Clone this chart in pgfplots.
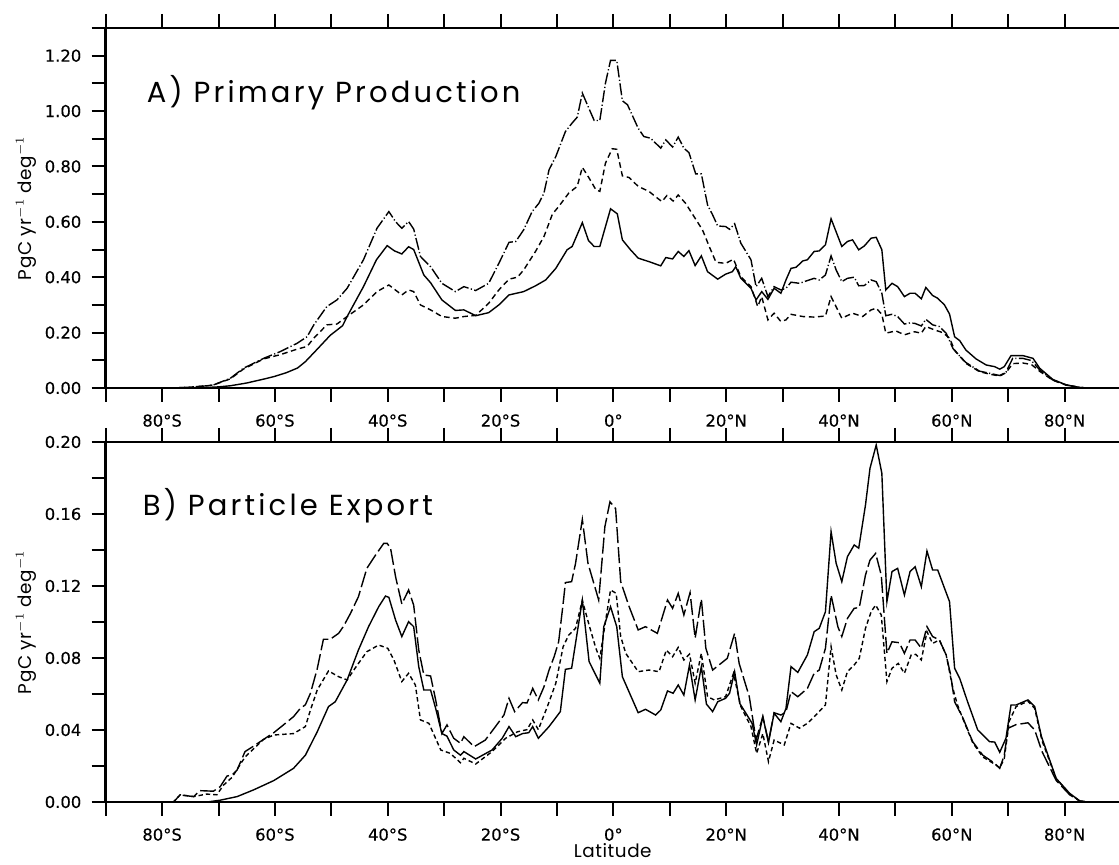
\documentclass[border=0pt]{standalone}
\usepackage{fontspec}
\setmainfont{DejaVu Sans}
\newfontfamily\titlefont[LetterSpace=11]{Poppins}
\newfontfamily\labelfont[LetterSpace=3]{Poppins}
\usepackage{pgfplots}
\pgfplotsset{compat=1.18}

\pgfplotsset{
  panel/.style={
    scale only axis, width=507.65pt, height=180pt,
    xmin=-90, xmax=90,
    xtick={-90,-80,...,90},
    xticklabels={,80°S,,60°S,,40°S,,20°S,,0°,,20°N,,40°N,,60°N,,80°N,},
    tick align=outside, major tick length=7pt,
    xtick pos=both, xticklabel pos=lower, ytick pos=left,
    axis line style={line width=1.2pt},
    major tick style={line width=1pt, black},
    tick label style={font=\fontsize{8.2}{9}\selectfont\addfontfeatures{FakeBold=0.4}, inner sep=0pt},
    yticklabel style={xshift=-5pt},
    xticklabel style={yshift=-6pt},
    ylabel={PgC yr$^{-1}$ deg$^{-1}$},
    ylabel style={at={(axis description cs:-0.0785,0.5)}, anchor=center, rotate=0, font=\labelfont\fontsize{9.2}{10}\selectfont},
  },
  sA/.style={black, solid, line width=0.7pt},
  ddA/.style={black, line width=0.7pt, dash pattern=on 6pt off 1.2pt on 0.6pt off 1.2pt},
  dsA/.style={black, line width=0.7pt, dash pattern=on 2.8pt off 1.8pt},
  ldB/.style={black, line width=0.7pt, dash pattern=on 8pt off 2pt},
  dsB/.style={black, line width=0.7pt, dash pattern=on 2.2pt off 1.5pt},
}

\begin{document}
\begin{tikzpicture}
\useasboundingbox (0,0) rectangle (559.5pt,432.5pt);

% ---------------- Panel A ----------------
\begin{axis}[panel, at={(52.85pt,238.5pt)}, anchor=south west,
  ymin=0, ymax=1.3,
  ytick={0,0.1,0.2,0.3,0.4,0.5,0.6,0.7,0.8,0.9,1.0,1.1,1.2,1.3},
  yticklabels={0.00,,0.20,,0.40,,0.60,,0.80,,1.00,,1.20,},
]
% solid
\addplot[sA] coordinates {
(-90,0) (-76,0) (-72,0.002) (-70,0.004) (-67.9,0.008) (-65,0.018) (-62,0.032) (-60.2,0.041) (-58,0.055) (-56,0.072) (-54.6,0.095) (-52.5,0.14) (-50.2,0.19) (-48,0.225) (-47.2,0.258) (-44.3,0.366) (-42,0.463) (-40.1,0.514) (-38.8,0.495) (-37.5,0.484) (-36.3,0.51) (-35.4,0.5) (-33.6,0.408) (-32.4,0.38) (-30.4,0.318) (-28,0.28) (-26.5,0.282) (-24.4,0.261) (-22.1,0.272) (-20.3,0.3) (-18.5,0.336) (-15.9,0.348) (-13.8,0.369) (-12,0.39) (-10.2,0.432) (-8.2,0.499) (-7.3,0.511) (-5.5,0.597) (-4.4,0.532) (-3.4,0.511) (-2.4,0.511) (-0.5,0.647) (0.7,0.629) (1.6,0.535) (3,0.5) (4.4,0.469) (6.5,0.455) (8.4,0.441) (9.3,0.471) (10.5,0.466) (11.5,0.493) (12.5,0.475) (13.4,0.496) (14.5,0.442) (15.6,0.477) (16.7,0.42) (18.5,0.393) (19.9,0.411) (21.1,0.42) (21.7,0.438) (22.6,0.396) (24.4,0.36) (25.3,0.318) (26.3,0.348) (27.4,0.32) (28.5,0.36) (29.7,0.342) (30.6,0.39) (31.5,0.432) (32.4,0.436) (33.6,0.459) (34.4,0.463) (35.6,0.493) (36.5,0.495) (37.6,0.517) (38.6,0.611) (40.5,0.511) (41.5,0.529) (42.4,0.535) (43.5,0.499) (44.5,0.513) (45.7,0.541) (46.6,0.544) (47.6,0.499) (48.3,0.354) (49.4,0.378) (50.4,0.366) (51.6,0.33) (52.6,0.342) (53.5,0.342) (54.6,0.322) (55.4,0.363) (56.6,0.334) (57.5,0.324) (58.7,0.3) (59.6,0.267) (60.5,0.185) (61.4,0.171) (62.5,0.137) (64.3,0.105) (66.1,0.083) (67.6,0.077) (68.5,0.068) (69.3,0.077) (70.5,0.117) (72.6,0.117) (74.4,0.107) (75.6,0.071) (77.9,0.031) (80.3,0.011) (82.7,0.002) (84,0) (90,0)
};
% dash-dot
\addplot[ddA] coordinates {
(-90,0) (-78,0) (-75,0.003) (-72,0.008) (-70.9,0.011) (-67.9,0.035) (-65.6,0.071) (-62,0.107) (-59.1,0.131) (-56.1,0.161) (-54.3,0.185) (-53.1,0.228) (-50.8,0.294) (-49,0.318) (-47.2,0.36) (-44.3,0.463) (-41.9,0.577) (-39.8,0.637) (-38.6,0.6) (-37.5,0.577) (-36.3,0.601) (-35.4,0.574) (-34.2,0.475) (-32.4,0.438) (-30.4,0.378) (-28,0.348) (-26.5,0.366) (-24.4,0.352) (-22.1,0.378) (-20.3,0.45) (-18.5,0.526) (-17.3,0.529) (-15.9,0.571) (-14.4,0.637) (-13.2,0.667) (-12.3,0.704) (-11.4,0.788) (-10.2,0.836) (-8.5,0.926) (-7.3,0.957) (-6.4,0.978) (-5.5,1.065) (-4.3,1.008) (-3.4,0.966) (-2.4,0.966) (-1.4,1.101) (-0.5,1.183) (0.6,1.183) (1.6,1.037) (2.5,1.023) (4.4,0.938) (5.4,0.908) (6.6,0.902) (8.4,0.866) (9.3,0.896) (10.5,0.87) (11.5,0.906) (12.5,0.866) (13.4,0.85) (14.6,0.773) (15.6,0.773) (16.7,0.661) (17.6,0.625) (18.5,0.585) (19.9,0.583) (20.6,0.573) (21.5,0.593) (22.6,0.523) (24.4,0.463) (25.3,0.366) (26.3,0.396) (27.4,0.33) (28.5,0.366) (29.7,0.354) (30.6,0.36) (31.5,0.382) (33,0.378) (34.7,0.39) (35.6,0.396) (36.5,0.39) (37.6,0.408) (38.6,0.477) (39.5,0.426) (40.5,0.384) (41.5,0.396) (42.7,0.4) (43.5,0.369) (44.5,0.37) (45.7,0.39) (46.6,0.384) (47.6,0.342) (48.3,0.261) (49.4,0.266) (50.4,0.258) (51.6,0.231) (52.6,0.235) (53.5,0.233) (54.6,0.224) (55.4,0.248) (56.6,0.228) (57.8,0.222) (59,0.198) (60.2,0.143) (60.8,0.128) (62.5,0.092) (64.9,0.061) (66.7,0.053) (68.5,0.045) (69.6,0.057) (70.8,0.107) (72.6,0.107) (74.1,0.099) (75.6,0.065) (77.9,0.029) (80.3,0.011) (82.7,0.002) (84,0) (90,0)
};
% dashed
\addplot[dsA] coordinates {
(-90,0) (-78,0) (-75,0.003) (-72,0.008) (-70.9,0.011) (-67.9,0.033) (-65.6,0.068) (-62,0.105) (-59.1,0.12) (-56.1,0.14) (-54.3,0.15) (-53.1,0.18) (-50.8,0.228) (-49,0.231) (-47.2,0.258) (-44.3,0.3) (-41.9,0.348) (-39.8,0.372) (-37.5,0.336) (-36.3,0.354) (-35.4,0.348) (-34.2,0.3) (-32.4,0.282) (-30.4,0.258) (-28,0.252) (-26.5,0.258) (-24.4,0.262) (-22.1,0.306) (-20.3,0.354) (-18.5,0.393) (-17,0.4) (-15.9,0.426) (-13.8,0.493) (-12.3,0.547) (-10.8,0.628) (-9.7,0.655) (-7.9,0.704) (-6.4,0.728) (-5.5,0.797) (-4.3,0.758) (-3.1,0.716) (-2.4,0.71) (-1.4,0.812) (-0.2,0.864) (0.6,0.862) (1.6,0.766) (2.8,0.76) (4.4,0.728) (6.3,0.71) (8.6,0.673) (9.5,0.695) (10.6,0.675) (11.5,0.697) (12.8,0.667) (14.3,0.619) (15.8,0.571) (17,0.511) (18.2,0.454) (19.9,0.45) (21.3,0.465) (22.6,0.402) (24.4,0.366) (25.6,0.294) (26.3,0.33) (27.4,0.246) (28.5,0.27) (29.7,0.24) (30.6,0.246) (31.5,0.266) (33.6,0.258) (35.6,0.256) (37.6,0.26) (38.6,0.33) (40.5,0.252) (42.4,0.27) (44.2,0.258) (45.7,0.282) (46.6,0.288) (47.6,0.266) (48.3,0.198) (50.1,0.206) (51.6,0.192) (53.4,0.203) (54.6,0.198) (55.4,0.222) (56.9,0.21) (58.4,0.2) (59.6,0.18) (60.5,0.137) (62.5,0.089) (64.9,0.059) (66.7,0.05) (68.5,0.043) (69.6,0.055) (70.8,0.088) (72.6,0.09) (74.1,0.085) (75.6,0.06) (77.9,0.028) (80.3,0.01) (82.7,0.002) (84,0) (90,0)
};
\node[anchor=base west, font=\titlefont\fontsize{14.5}{15}\selectfont] at (axis description cs:0.0335,0.792) {A) Primary Production};
\end{axis}

% ---------------- Panel B ----------------
\begin{axis}[panel, at={(52.85pt,31.5pt)}, anchor=south west,
  ymin=0, ymax=0.2,
  ytick={0,0.02,0.04,0.06,0.08,0.10,0.12,0.14,0.16,0.18,0.20},
  yticklabels={0.00,,0.04,,0.08,,0.12,,0.16,,0.20},
  xlabel={Latitude},
  xlabel style={at={(axis description cs:0.4994,-0.155)}, anchor=base, font=\labelfont\fontsize{9.2}{10}\selectfont},
]
% solid
\addplot[sA] coordinates {
(-90,0) (-72,0) (-69.7,0.001) (-66.7,0.003) (-63.8,0.0067) (-60.2,0.0119) (-56.7,0.0187) (-54.6,0.026) (-52.5,0.039) (-50.5,0.053) (-49.3,0.0557) (-47.2,0.0678) (-45.2,0.0844) (-43.4,0.0974) (-41.6,0.1085) (-40.4,0.1144) (-39.8,0.1137) (-38.6,0.101) (-37.5,0.0919) (-36.3,0.1002) (-35.4,0.0974) (-34.5,0.0752) (-33.6,0.0622) (-32.4,0.0622) (-31.5,0.052) (-30.4,0.038) (-29.5,0.0366) (-28.3,0.0289) (-27.1,0.026) (-26.5,0.028) (-24.4,0.0239) (-21.5,0.0289) (-19.7,0.0354) (-18.5,0.0419) (-17.3,0.0363) (-16.1,0.038) (-15,0.0385) (-14.3,0.0419) (-13.3,0.0354) (-11.4,0.0419) (-9.4,0.0502) (-8.5,0.0737) (-7.4,0.0743) (-5.5,0.1122) (-4.3,0.078) (-2.4,0.066) (-1.7,0.0974) (-0.5,0.1085) (0.6,0.0974) (1.6,0.0696) (4.4,0.0496) (5.7,0.0515) (7.5,0.0483) (8.4,0.0511) (9.6,0.0617) (10.6,0.0604) (11.5,0.065) (12.5,0.0594) (13.5,0.0761) (14.5,0.0567) (15.6,0.0752) (16.5,0.0544) (17.6,0.0502) (18.5,0.0557) (19.9,0.0576) (20.6,0.0604) (21.5,0.0724) (22.4,0.0548) (23.5,0.0493) (24.6,0.0437) (25.4,0.0317) (26.5,0.0474) (27.5,0.033) (28.5,0.0493) (29.7,0.0446) (30.6,0.052) (31.5,0.0752) (32.7,0.072) (34.4,0.0817) (35.6,0.0946) (36.5,0.0965) (37.6,0.1057) (38.6,0.1502) (39.5,0.1326) (40.5,0.1224) (41.5,0.1363) (42.7,0.1428) (43.5,0.141) (44.7,0.165) (45.5,0.1854) (46.6,0.1983) (47.6,0.1826) (48.5,0.1113) (49.4,0.128) (50.4,0.1298) (51.6,0.115) (52.6,0.128) (53.5,0.1307) (54.6,0.1196) (55.6,0.1394) (56.6,0.1289) (57.5,0.1289) (59.6,0.1113) (60.5,0.0743) (61.4,0.0687) (62.8,0.0557) (64.6,0.04) (66.7,0.0335) (67.6,0.0333) (68.5,0.0276) (69.6,0.0354) (70.5,0.0539) (71.4,0.0539) (73.5,0.0567) (74.7,0.053) (75.9,0.0363) (78.5,0.0131) (80.9,0.0048) (82.7,0.0006) (84,0) (90,0)
};
% long dashed
\addplot[ldB] coordinates {
(-90,0) (-78,0) (-76.8,0.0039) (-74.4,0.003) (-73.3,0.0063) (-70.9,0.006) (-69.7,0.0085) (-68.5,0.0144) (-67.6,0.015) (-66.7,0.0178) (-65.3,0.028) (-63.8,0.031) (-62,0.0348) (-60.2,0.0385) (-58.5,0.0428) (-56.7,0.0474) (-55.5,0.052) (-54.6,0.054) (-53.7,0.0604) (-52.5,0.074) (-51.4,0.0904) (-50.2,0.0904) (-48.7,0.0937) (-47.8,0.0978) (-46.6,0.1048) (-45.2,0.114) (-43.7,0.1298) (-42.2,0.137) (-40.7,0.1437) (-40.1,0.1437) (-39.5,0.141) (-38.6,0.125) (-37.5,0.11) (-36.3,0.1178) (-35.4,0.1094) (-34.5,0.0844) (-33.6,0.0706) (-32.4,0.07) (-31.5,0.0567) (-30.4,0.038) (-29.5,0.0428) (-28.3,0.0354) (-27.1,0.0326) (-26.5,0.0363) (-24.7,0.0307) (-22.7,0.0344) (-20.9,0.0419) (-19.4,0.0483) (-18.5,0.0576) (-17.5,0.0502) (-16.1,0.0552) (-15.3,0.055) (-14.3,0.0631) (-13.3,0.0567) (-12.3,0.064) (-11.4,0.0733) (-10.5,0.0807) (-9.7,0.089) (-8.9,0.1103) (-8.5,0.1219) (-7.4,0.1224) (-6.7,0.1326) (-5.5,0.157) (-4.5,0.1326) (-2.6,0.1122) (-1.5,0.153) (-0.6,0.1668) (0.4,0.163) (1.3,0.1224) (2.8,0.1085) (4.4,0.0956) (5.7,0.0974) (7.8,0.0937) (9.6,0.1122) (10.5,0.1076) (11.5,0.1159) (12.5,0.1039) (13.6,0.1163) (14.5,0.091) (15.6,0.1128) (16.4,0.0854) (17.6,0.0733) (20.2,0.0798) (21.5,0.0937) (22.3,0.077) (24.1,0.0585) (25.3,0.0344) (26.5,0.0474) (27.5,0.0335) (28.5,0.0496) (29.7,0.0483) (30.6,0.05) (31.5,0.0613) (32.7,0.0585) (34.4,0.0631) (35.6,0.0715) (36.5,0.0733) (37.6,0.0854) (38.6,0.115) (39.8,0.0974) (40.5,0.0919) (41.5,0.102) (42.7,0.1076) (43.6,0.108) (44.7,0.1261) (45.5,0.1344) (46.5,0.1381) (47.5,0.126) (48.5,0.0826) (49.4,0.089) (50.7,0.0885) (51.6,0.0826) (52.6,0.09) (53.5,0.09) (54.6,0.0854) (55.6,0.0974) (56.6,0.0919) (57.8,0.09) (59,0.0817) (59.8,0.0706) (60.5,0.0557) (62,0.0465) (63.7,0.0335) (65.5,0.026) (67.6,0.0215) (68.5,0.0187) (69.3,0.026) (70,0.041) (71.4,0.043) (73.5,0.044) (74.7,0.04) (76,0.028) (78.5,0.012) (80.9,0.004) (82.7,0.0005) (84,0) (90,0)
};
% dashed
\addplot[dsB] coordinates {
(-90,0) (-78,0) (-76.8,0.004) (-74.4,0.003) (-72.1,0.0044) (-70.3,0.004) (-69.1,0.0094) (-67.6,0.0137) (-65.3,0.025) (-62,0.0348) (-60.2,0.0372) (-56.7,0.038) (-54.6,0.0419) (-53.7,0.0511) (-52.5,0.0622) (-50.5,0.0728) (-48.7,0.0696) (-47.2,0.0678) (-45.4,0.0761) (-43.7,0.0835) (-41.6,0.0872) (-40,0.0854) (-38.9,0.0789) (-37.5,0.0669) (-36.3,0.0715) (-35.1,0.065) (-34.2,0.0456) (-32.7,0.0437) (-30.6,0.0289) (-28.9,0.027) (-27.1,0.0218) (-26.5,0.0243) (-24.4,0.0211) (-21.5,0.028) (-19.1,0.0354) (-17,0.039) (-15.3,0.0402) (-14.3,0.0456) (-13.3,0.0402) (-11.7,0.053) (-10.2,0.066) (-8.9,0.0863) (-7.9,0.0928) (-6.7,0.0965) (-5.5,0.112) (-4.3,0.0983) (-3.1,0.0854) (-2.4,0.0798) (-1.4,0.1002) (-0.5,0.1178) (0.5,0.1159) (1.3,0.0919) (2.2,0.0826) (4.4,0.0724) (6.3,0.0733) (8.1,0.0724) (9.4,0.0844) (10.5,0.0807) (11.5,0.0859) (12.5,0.0789) (13.5,0.0822) (14.5,0.066) (15.6,0.0826) (16.7,0.0585) (17.9,0.0567) (19.9,0.0585) (21.3,0.0715) (22.6,0.053) (24.4,0.0419) (25.4,0.027) (26.5,0.038) (27.5,0.0224) (28.5,0.0344) (30.3,0.0317) (31.5,0.0437) (33,0.041) (34.4,0.0437) (35.9,0.0483) (37.6,0.0539) (38.6,0.0863) (39.5,0.0706) (40.5,0.0622) (41.5,0.0724) (42.7,0.0761) (43.6,0.0798) (44.7,0.0965) (45.7,0.1057) (46.5,0.1094) (47.5,0.1039) (48.5,0.0669) (49.4,0.0743) (50.5,0.077) (51.6,0.0715) (52.8,0.0817) (53.6,0.082) (54.6,0.0789) (55.6,0.0946) (56.6,0.0881) (57.8,0.09) (59,0.0817) (60.2,0.063) (61,0.054) (62,0.046) (63.7,0.033) (65.5,0.025) (67.6,0.021) (68.5,0.019) (69.3,0.024) (70.2,0.045) (71.4,0.053) (73.5,0.056) (74.7,0.052) (76,0.034) (78.5,0.013) (80.9,0.0045) (82.7,0.0005) (84,0) (90,0)
};
\node[anchor=base west, font=\titlefont\fontsize{14.5}{15}\selectfont] at (axis description cs:0.0296,0.797) {B) Particle Export};
\end{axis}
\end{tikzpicture}
\end{document}
